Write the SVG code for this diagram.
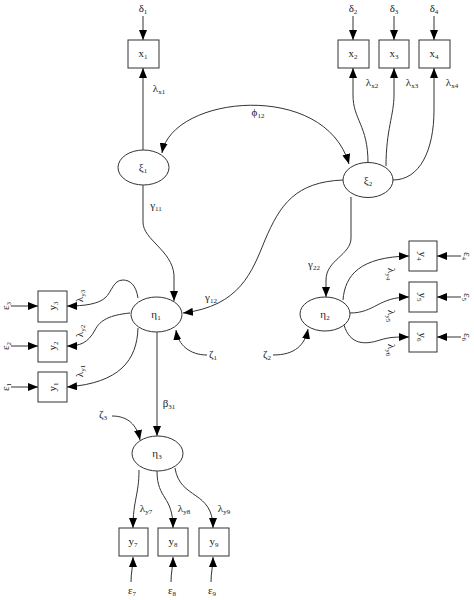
<svg xmlns="http://www.w3.org/2000/svg" width="474" height="600" viewBox="0 0 474 600">
<style>
text{font-family:"Liberation Serif","DejaVu Serif",serif;font-size:11px;fill:#222;text-anchor:middle}
.s{font-size:7px}
.box,.ell{fill:#fff;stroke:#333;stroke-width:1}
.e{fill:none;stroke:#333;stroke-width:1;marker-end:url(#ah)}
.d{fill:none;stroke:#333;stroke-width:1;marker-end:url(#ah);marker-start:url(#ah)}
</style>
<defs>
<marker id="ah" markerUnits="userSpaceOnUse" markerWidth="10" markerHeight="8" refX="10" refY="4" orient="auto-start-reverse"><path d="M0,0 L10,4 L0,8 z" fill="#000"/></marker>
</defs>
<rect width="474" height="600" fill="#fff"/>
<g id="connectors">
<path class="e" d="M143,16 L143,40"/>
<path class="e" d="M353,16 L353,40"/>
<path class="e" d="M394,16 L394,40"/>
<path class="e" d="M434,16 L434,40"/>
<path class="e" d="M143,150 L143,68"/>
<path class="e" d="M368,163 C368,125 353,120 353,95 L353,68"/>
<path class="e" d="M386,166 C386,130 394,115 394,95 L394,68"/>
<path class="e" d="M393,180 C420,180 434,150 434,110 L434,68"/>
<path class="d" d="M162,153 C172,95 325,80 349,164"/>
<path class="e" d="M143,185 L143,222 C143,240 172,250 174,275 L174,301"/>
<path class="e" d="M343,180 C295,182 280,205 265,240 C252,272 240,306 183,313"/>
<path class="e" d="M207,355 C190,355 178,345 176,330"/>
<path class="e" d="M157,332 L157,436"/>
<path class="e" d="M112,416 C128,416 137,425 140,440"/>
<path class="e" d="M139,470 C139,495 133,500 133,528"/>
<path class="e" d="M157,471 C157,500 173,495 173,528"/>
<path class="e" d="M175,468 C180,500 213,490 213,528"/>
<path class="e" d="M131,582 C131,572 133,566 133,557"/>
<path class="e" d="M171,582 C171,572 173,566 173,557"/>
<path class="e" d="M211,582 C211,572 213,566 213,557"/>
<path class="e" d="M138,298 C136,285 130,280 123,280 C113,280 112,292 105,298 C98,304 85,306 67,306"/>
<path class="e" d="M130,313 C110,315 100,320 95,330 C88,343 80,346 67,346"/>
<path class="e" d="M138,328 C137,360 120,383 67,387"/>
<path class="e" d="M11,306 L38,306"/>
<path class="e" d="M11,346 L38,346"/>
<path class="e" d="M11,387 L38,387"/>
<path class="e" d="M351,197 L351,238 C351,255 326,260 326,280 L326,297"/>
<path class="e" d="M273,355 C295,355 305,345 308,329"/>
<path class="e" d="M343,300 C345,275 360,257 409,256"/>
<path class="e" d="M350,313 C375,313 378,297 409,297"/>
<path class="e" d="M344,325 C350,345 365,345 380,340 C390,337 395,337 409,337"/>
<path class="e" d="M461,256 L437,256"/>
<path class="e" d="M461,297 L437,297"/>
<path class="e" d="M461,337 L437,337"/>
</g>
<g id="labels">
<text x="143" y="12">δ<tspan class="s" dy="2">1</tspan></text>
<text x="353" y="12">δ<tspan class="s" dy="2">2</tspan></text>
<text x="394" y="12">δ<tspan class="s" dy="2">3</tspan></text>
<text x="434" y="12">δ<tspan class="s" dy="2">4</tspan></text>
<text x="159" y="92">λ<tspan class="s" dy="2">x1</tspan></text>
<text x="372" y="86">λ<tspan class="s" dy="2">x2</tspan></text>
<text x="412" y="86">λ<tspan class="s" dy="2">x3</tspan></text>
<text x="452" y="86">λ<tspan class="s" dy="2">x4</tspan></text>
<text x="258" y="116">ϕ<tspan class="s" dy="2">12</tspan></text>
<text x="156" y="209">γ<tspan class="s" dy="2">11</tspan></text>
<text x="211" y="301">γ<tspan class="s" dy="2">12</tspan></text>
<text x="314" y="268">γ<tspan class="s" dy="2">22</tspan></text>
<text x="213" y="358">ζ<tspan class="s" dy="2">1</tspan></text>
<text x="267" y="358">ζ<tspan class="s" dy="2">2</tspan></text>
<text x="103" y="418">ζ<tspan class="s" dy="2">3</tspan></text>
<text x="169" y="407">β<tspan class="s" dy="2">31</tspan></text>
<text x="146" y="512">λ<tspan class="s" dy="2">y7</tspan></text>
<text x="184" y="512">λ<tspan class="s" dy="2">y8</tspan></text>
<text x="224" y="512">λ<tspan class="s" dy="2">y9</tspan></text>
<text x="132" y="594">ε<tspan class="s" dy="2">7</tspan></text>
<text x="172" y="594">ε<tspan class="s" dy="2">8</tspan></text>
<text x="212" y="594">ε<tspan class="s" dy="2">9</tspan></text>
<text transform="translate(83,296) rotate(-90)">λ<tspan class="s" dy="2">y3</tspan></text>
<text transform="translate(83,331) rotate(-90)">λ<tspan class="s" dy="2">y2</tspan></text>
<text transform="translate(83,371) rotate(-90)">λ<tspan class="s" dy="2">y1</tspan></text>
<text transform="translate(9,306) rotate(-90)">ε<tspan class="s" dy="2">3</tspan></text>
<text transform="translate(9,346) rotate(-90)">ε<tspan class="s" dy="2">2</tspan></text>
<text transform="translate(9,387) rotate(-90)">ε<tspan class="s" dy="2">1</tspan></text>
<text transform="translate(388,274) rotate(90)">λ<tspan class="s" dy="2">y4</tspan></text>
<text transform="translate(388,316) rotate(90)">λ<tspan class="s" dy="2">y5</tspan></text>
<text transform="translate(388,350) rotate(90)">λ<tspan class="s" dy="2">y6</tspan></text>
<text transform="translate(464,256) rotate(90)">ε<tspan class="s" dy="2">4</tspan></text>
<text transform="translate(464,297) rotate(90)">ε<tspan class="s" dy="2">5</tspan></text>
<text transform="translate(464,337) rotate(90)">ε<tspan class="s" dy="2">6</tspan></text>
</g>
<g id="x1"><rect class="box" x="128" y="40" width="31" height="28"/><text x="143" y="57">x<tspan class="s" dy="2">1</tspan></text></g>
<g id="x2"><rect class="box" x="338" y="40" width="31" height="28"/><text x="353" y="57">x<tspan class="s" dy="2">2</tspan></text></g>
<g id="x3"><rect class="box" x="379" y="40" width="30" height="28"/><text x="394" y="57">x<tspan class="s" dy="2">3</tspan></text></g>
<g id="x4"><rect class="box" x="419" y="40" width="31" height="28"/><text x="434" y="57">x<tspan class="s" dy="2">4</tspan></text></g>
<g id="xi1"><ellipse class="ell" cx="143.5" cy="167.5" rx="25.5" ry="17.5"/><text x="143" y="171">ξ<tspan class="s" dy="2">1</tspan></text></g>
<g id="xi2"><ellipse class="ell" cx="368" cy="180" rx="25" ry="17.5"/><text x="368" y="184">ξ<tspan class="s" dy="2">2</tspan></text></g>
<g id="eta1"><ellipse class="ell" cx="156.5" cy="314.5" rx="25.5" ry="17.5"/><text x="156" y="318">η<tspan class="s" dy="2">1</tspan></text></g>
<g id="eta2"><ellipse class="ell" cx="325" cy="314" rx="25" ry="17"/><text x="325" y="318">η<tspan class="s" dy="2">2</tspan></text></g>
<g id="eta3"><ellipse class="ell" cx="157.5" cy="453.5" rx="25.5" ry="17.5"/><text x="157" y="457">η<tspan class="s" dy="2">3</tspan></text></g>
<g id="y1"><rect class="box" x="38" y="372" width="29" height="30"/><text transform="translate(56,387) rotate(-90)">y<tspan class="s" dy="2">1</tspan></text></g>
<g id="y2"><rect class="box" x="38" y="331" width="29" height="31"/><text transform="translate(56,346) rotate(-90)">y<tspan class="s" dy="2">2</tspan></text></g>
<g id="y3"><rect class="box" x="38" y="291" width="29" height="31"/><text transform="translate(56,306) rotate(-90)">y<tspan class="s" dy="2">3</tspan></text></g>
<g id="y4"><rect class="box" x="409" y="241" width="28" height="30"/><text transform="translate(419,256) rotate(90)">y<tspan class="s" dy="2">4</tspan></text></g>
<g id="y5"><rect class="box" x="409" y="282" width="28" height="30"/><text transform="translate(419,297) rotate(90)">y<tspan class="s" dy="2">5</tspan></text></g>
<g id="y6"><rect class="box" x="409" y="322" width="28" height="30"/><text transform="translate(419,337) rotate(90)">y<tspan class="s" dy="2">6</tspan></text></g>
<g id="y7"><rect class="box" x="119" y="528" width="29" height="28"/><text x="133" y="545">y<tspan class="s" dy="2">7</tspan></text></g>
<g id="y8"><rect class="box" x="158" y="528" width="30" height="28"/><text x="173" y="545">y<tspan class="s" dy="2">8</tspan></text></g>
<g id="y9"><rect class="box" x="199" y="528" width="30" height="28"/><text x="214" y="545">y<tspan class="s" dy="2">9</tspan></text></g>
</svg>
